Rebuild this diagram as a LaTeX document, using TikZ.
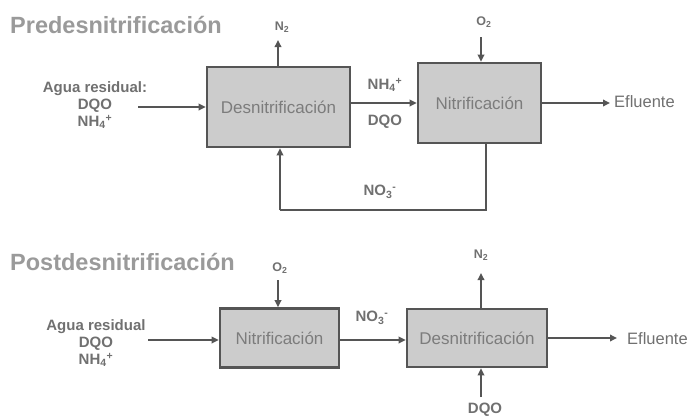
\documentclass[tikz,border=0pt]{standalone}
\usepackage{fontspec}
\setmainfont{Liberation Sans}
\usetikzlibrary{arrows.meta}
\definecolor{linec}{HTML}{555555}
\definecolor{boxfill}{HTML}{CCCCCC}
\definecolor{txtc}{HTML}{707070}
\definecolor{boxtxt}{HTML}{7C7C7C}
\definecolor{titlec}{HTML}{9A9A9A}
\begin{document}
\begin{tikzpicture}[x=1pt,y=-1pt,
  proc/.style={draw=linec, line width=2.6pt, fill=boxfill, inner sep=0pt,
    font=\fontsize{17}{19}\selectfont, text=boxtxt},
  flow/.style={draw=linec, line width=2.4pt, -{Triangle[length=7pt,width=6.5pt]}},
  pipe/.style={draw=linec, line width=2.4pt},
  ttl/.style={font=\bfseries\fontsize{23.5}{27}\selectfont, text=titlec, anchor=west, inner sep=0pt},
  lbl/.style={font=\bfseries\fontsize{15}{17}\selectfont, text=txtc, inner sep=0pt, align=center},
  sml/.style={font=\bfseries\fontsize{12.5}{14}\selectfont, text=txtc, inner sep=0pt},
  eff/.style={font=\fontsize{16.5}{18}\selectfont, text=txtc, inner sep=0pt, anchor=west}]
\useasboundingbox (0,0) rectangle (691,416);

% ---------- Predesnitrificacion ----------
\node[ttl] (t1) at (10,25) {Predesnitrificación};
\node[proc, minimum width=143pt, minimum height=80pt] (d1) at (278.5,107) {Desnitrificación};
\node[proc, minimum width=123pt, minimum height=80pt] (n1) at (479.5,103) {Nitrificación};

\node[lbl] (in1) at (95,105) {Agua residual:\\DQO\\NH\textsubscript{4}\textsuperscript{+}};
\coordinate (in1e) at (138,107);
\draw[flow] (in1e) -- (d1.west |- in1e);

\node[sml] (n2a) at (282,27) {N\textsubscript{2}};
\coordinate (n2ae) at (278,40);
\draw[flow] (d1.north -| n2ae) -- (n2ae);

\node[sml] (o2a) at (484,22) {O\textsubscript{2}};
\coordinate (o2ae) at (481,37);
\draw[flow] (o2ae) -- (n1.north -| o2ae);

\draw[flow] (d1.east |- n1.west) -- (n1.west);
\node[lbl] (nh1) at (385,85) {NH\textsubscript{4}\textsuperscript{+}};
\node[lbl] (dq1) at (385,122) {DQO};

\coordinate (ef1e) at (610,103);
\draw[flow] (n1.east) -- (ef1e);
\node[eff] (ef1) at (614,102) {Efluente};

\coordinate (fbr) at (486,210);
\coordinate (fbl) at (280,210);
\draw[pipe] (n1.south -| fbr) -- (fbr) -- (fbl);
\draw[flow] (fbl) -- (d1.south -| fbl);
\node[lbl] (no1) at (380,192) {NO\textsubscript{3}\textsuperscript{-}};

% ---------- Postdesnitrificacion ----------
\node[ttl] (t2) at (10,262) {Postdesnitrificación};
\node[proc, minimum width=119pt, minimum height=59pt] (n2) at (279.5,338) {Nitrificación};
\node[proc, minimum width=140pt, minimum height=58pt] (d2) at (477,338) {Desnitrificación};

\node[lbl] (in2) at (96,343) {Agua residual\\DQO\\NH\textsubscript{4}\textsuperscript{+}};
\coordinate (in2e) at (148,340);
\draw[flow] (in2e) -- (n2.west |- in2e);

\node[sml] (o2b) at (280,268) {O\textsubscript{2}};
\coordinate (o2be) at (278,280);
\draw[flow] (o2be) -- (n2.north -| o2be);

\draw[flow] (n2.east |- in2e) -- (d2.west |- in2e);
\node[lbl] (no2) at (372,318) {NO\textsubscript{3}\textsuperscript{-}};

\node[sml] (n2b) at (481,255) {N\textsubscript{2}};
\coordinate (n2be) at (481,273);
\draw[flow] (d2.north -| n2be) -- (n2be);

\coordinate (dqbe) at (481,397);
\draw[flow] (dqbe) -- (d2.south -| dqbe);
\node[lbl] (dq2) at (485,410) {DQO};

\coordinate (ef2e) at (617,338);
\draw[flow] (d2.east) -- (ef2e);
\node[eff] (ef2) at (627,339) {Efluente};
\end{tikzpicture}
\end{document}
